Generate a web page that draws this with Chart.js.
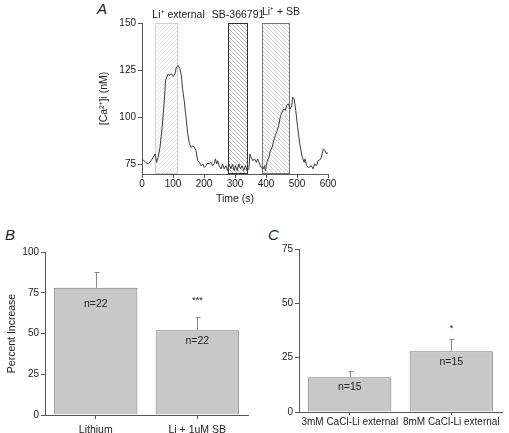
<!DOCTYPE html>
<html>
<head>
<meta charset="utf-8">
<script src="https://cdn.jsdelivr.net/npm/chart.js@4.4.1/dist/chart.umd.min.js"></script>
<style>
body{margin:0;background:#fff;width:509px;height:433px;position:relative;overflow:hidden;font-family:"Liberation Sans",Arial,sans-serif}
canvas{position:absolute}
.panel{position:absolute;font-style:italic;font-size:15px;color:#222}
</style>
</head>
<body>
<div class="panel" style="left:97px;top:0px">A</div>
<div class="panel" style="left:5px;top:226px">B</div>
<div class="panel" style="left:268px;top:226px">C</div>
<canvas id="chartA" style="left:0;top:0" width="509" height="215"></canvas>
<canvas id="chartB" style="left:0;top:215px" width="260" height="218"></canvas>
<canvas id="chartC" style="left:260px;top:215px" width="249" height="218"></canvas>
<script>
'use strict';
// panel A: calcium trace
let traceTime=[0,6,12,20,29,36,42,47,52,58,65,72,76,84,90,95,101,106,111,117,122,127,131,136,142,147,153,158,164,169,174,180,185,190,196,201,207,212,217,223,228,233,237,241,244,249,255,260,265,271,276,281,287,292,297,302,307,312,318,323,328,334,339,345,348,352,358,363,369,373,380,384,391,395,398,403,409,414,420,425,430,436,441,447,452,457,462,467,472,478,483,486,491,496,502,509,517,523,526,531,538,546,552,557,563,568,577,585,590,595,600];
let traceCa=[78,77,76.2,75.3,77,78.8,80.6,76.2,78.8,84,94.8,109,119.6,123,122.2,123.1,121.7,123,126.6,127.5,125.8,122.2,115,109,100,92,86,84.2,84.8,84.2,82.4,77,76.2,74.4,75.3,73.5,74.4,75.8,75.3,76.2,74.4,75.5,78,75.3,77,74.4,72.7,75.3,72.7,74.4,71.8,75.3,72.7,75.3,71.8,74.4,71.8,75.3,72.7,74.4,71.8,74.4,71.8,72.7,80.6,78.8,77,78,76.2,78,75.3,73.5,72.7,74.4,71.8,76.2,78.8,82.4,84.2,87.7,90.4,93,95.7,101,102.8,104.5,103.6,106.3,107.2,104.5,106,110.7,109.8,103.6,94.8,86,78.8,76.2,78,74.4,73.5,74.4,72.7,75.3,74.4,77,78,83.3,82.4,80.6,81.5];
let boxLabels=['Li\u207A external','SB-366791','Li\u207A + SB'];
let boxStart=[43,278,387];
let boxEnd=[117,342,478];
let caTicks=[75,100,125,150];
let timeTicks=[0,100,200,300,400,500,600];

// panel B
let groupsB=['Lithium','Li + 1uM SB'];
let meanB=[78,52];
let errB=[10,8];
let nB=['n=22','n=22'];
let starB=['','***'];
let ticksB=[0,25,50,75,100];

// panel C
let groupsC=['3mM CaCl-Li external','8mM CaCl-Li external'];
let meanC=[16,28];
let errC=[3,5.5];
let nC=['n=15','n=15'];
let starC=['','*'];
let ticksC=[0,25,50,75];

Chart.defaults.font.family='"Liberation Sans", Arial, sans-serif';
Chart.defaults.font.size=10;
Chart.defaults.color='#222';
Chart.defaults.animation=false;
Chart.defaults.plugins.legend.display=false;
Chart.defaults.plugins.tooltip.enabled=false;

let axisColor='#555';

function hatch(color, forward){
  let c=document.createElement('canvas');
  c.width=4;c.height=4;
  let g=c.getContext('2d');
  g.strokeStyle=color;g.lineWidth=0.7;
  g.beginPath();
  if(forward){
    g.moveTo(0,4);g.lineTo(4,0);
    g.moveTo(-1,1);g.lineTo(1,-1);
    g.moveTo(3,5);g.lineTo(5,3);
  }else{
    g.moveTo(0,0);g.lineTo(4,4);
    g.moveTo(-1,3);g.lineTo(1,5);
    g.moveTo(3,-1);g.lineTo(5,1);
  }
  g.stroke();
  return c;
}

let ctxA=document.getElementById('chartA').getContext('2d');
let boxFill=[ctxA.createPattern(hatch('#d8d8d8',true),'repeat'),ctxA.createPattern(hatch('#9a9a9a',false),'repeat'),ctxA.createPattern(hatch('#b8b8b8',false),'repeat')];
let boxEdge=['#d0d0d0','#333','#777'];
let boxText=[{align:'left',dx:-3,y:20},{align:'center',dx:0,y:20},{align:'left',dx:0,y:17}];

let boxPlugin={
  id:'boxes',
  beforeDatasetsDraw(chart){
    let {ctx,chartArea,scales}=chart;
    let top=scales.y.getPixelForValue(150);
    let bottom=chartArea.bottom;
    for(let i=0;i<boxStart.length;i++){
      let l=scales.x.getPixelForValue(boxStart[i]);
      let r=scales.x.getPixelForValue(boxEnd[i]);
      ctx.save();
      ctx.fillStyle=boxFill[i];
      ctx.fillRect(l,top,r-l,bottom-top);
      ctx.strokeStyle=boxEdge[i];
      ctx.lineWidth=1;
      ctx.strokeRect(Math.round(l)+0.5,Math.round(top)+0.5,Math.round(r-l)-1,Math.round(bottom-top)-1);
      ctx.fillStyle='#222';
      ctx.font='10.5px "Liberation Sans", Arial, sans-serif';
      ctx.textAlign=boxText[i].align;
      ctx.textBaseline='bottom';
      let tx=boxText[i].align==='center'?(l+r)/2:l;
      ctx.fillText(boxLabels[i],tx+boxText[i].dx,boxText[i].y);
      ctx.restore();
    }
  }
};

new Chart(ctxA,{
  type:'line',
  data:{
    datasets:[{
      data:traceTime.map((t,i)=>({x:t,y:traceCa[i]})),
      borderColor:'#3a3a3a',
      borderWidth:1,
      pointRadius:0,
      tension:0
    }]
  },
  options:{
    responsive:false,
    layout:{padding:{left:94,right:181,top:23,bottom:6}},
    scales:{
      x:{
        type:'linear',min:0,max:600,
        afterBuildTicks:s=>{s.ticks=timeTicks.map(v=>({value:v}));},
        afterFit:s=>{s.height=35;},
        grid:{drawOnChartArea:false,tickLength:4,color:axisColor},
        border:{color:axisColor},
        ticks:{padding:0,maxRotation:0},
        title:{display:true,text:'Time (s)',font:{size:10.5}}
      },
      y:{
        min:70,max:150,
        afterBuildTicks:s=>{s.ticks=caTicks.map(v=>({value:v}));},
        afterFit:s=>{s.width=48;},
        grid:{drawOnChartArea:false,tickLength:4,color:axisColor},
        border:{color:axisColor},
        ticks:{padding:2},
        title:{display:true,text:'[Ca\u00B2\u207A]i (nM)',font:{size:10.5}}
      }
    }
  },
  plugins:[boxPlugin]
});

function barExtras(errs,nLabels,stars,nDrop,starGap){
  return {
    id:'extras',
    afterDatasetsDraw(chart){
      let {ctx,scales}=chart;
      let vals=chart.data.datasets[0].data;
      chart.getDatasetMeta(0).data.forEach((bar,i)=>{
        let yTop=scales.y.getPixelForValue(vals[i]);
        let yErr=scales.y.getPixelForValue(vals[i]+errs[i]);
        let x=Math.round(bar.x)+0.5;
        ctx.save();
        ctx.strokeStyle='#8a8a8a';
        ctx.lineWidth=1;
        ctx.beginPath();
        ctx.moveTo(x,yTop);ctx.lineTo(x,Math.round(yErr)+0.5);
        ctx.moveTo(x-2,Math.round(yErr)+0.5);ctx.lineTo(x+3,Math.round(yErr)+0.5);
        ctx.stroke();
        ctx.fillStyle='#222';
        ctx.font='10.5px "Liberation Sans", Arial, sans-serif';
        ctx.textAlign='center';
        ctx.textBaseline='middle';
        ctx.fillText(nLabels[i],bar.x,yTop+nDrop[i]);
        if(stars[i]){
          ctx.font='9px "Liberation Sans", Arial, sans-serif';
          ctx.fillText(stars[i],x,yErr-starGap);
        }
        ctx.restore();
      });
    }
  };
}

function barChart(id,groups,means,ticks,maxY,pad,yWidth,xOpts,extras,yTitle){
  return new Chart(document.getElementById(id),{
    type:'bar',
    data:{
      labels:groups,
      datasets:[{
        data:means,
        backgroundColor:'#c8c8c8',
        borderColor:'#7a7a7a',
        borderWidth:1,
        barPercentage:0.82,
        categoryPercentage:1
      }]
    },
    options:{
      responsive:false,
      layout:{padding:pad},
      scales:{
        x:{
          afterFit:s=>{s.height=xOpts.height;},
          grid:{drawOnChartArea:false,offset:false,tickLength:xOpts.tick,color:axisColor},
          border:{color:axisColor},
          ticks:{padding:xOpts.pad,maxRotation:0,autoSkip:false,font:{size:xOpts.size}}
        },
        y:{
          min:0,max:maxY,
          afterBuildTicks:s=>{s.ticks=ticks.map(v=>({value:v}));},
          afterFit:s=>{s.width=yWidth;},
          grid:{drawOnChartArea:false,tickLength:4,color:axisColor},
          border:{color:axisColor},
          ticks:{padding:2},
          title:{display:!!yTitle,text:yTitle||'',font:{size:10.5}}
        }
      }
    },
    plugins:[extras]
  });
}

barChart('chartB',groupsB,meanB,ticksB,100,{left:2,right:12,top:37,bottom:0},43,{height:18,tick:4,pad:5,size:10.5},barExtras(errB,nB,starB,[16,11],17),'Percent Increase');
barChart('chartC',groupsC,meanC,ticksC,75,{left:0,right:7,top:34,bottom:0},39,{height:21,tick:3,pad:1,size:10},barExtras(errC,nC,starC,[10,11],11),'');
</script>
</body>
</html>
